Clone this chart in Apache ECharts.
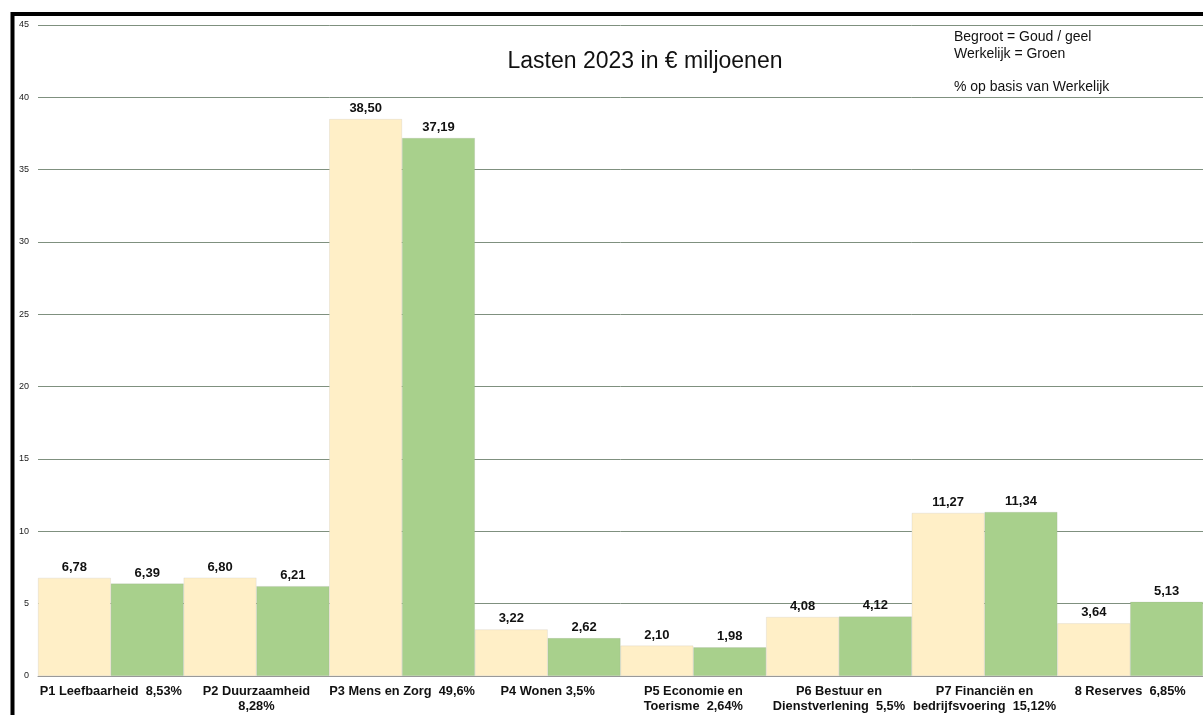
<!DOCTYPE html>
<html>
<head>
<meta charset="utf-8">
<script src="https://cdn.jsdelivr.net/npm/echarts@6/dist/echarts.min.js"></script>
<style>
html,body{margin:0;padding:0;background:#fff;}
#chart{width:1203px;height:715px;}
</style>
</head>
<body>
<div id="chart"></div>
<script>
var categories = [
  'P1 Leefbaarheid  8,53%',
  'P2 Duurzaamheid\n8,28%',
  'P3 Mens en Zorg  49,6%',
  'P4 Wonen 3,5%',
  'P5 Economie en\nToerisme  2,64%',
  'P6 Bestuur en\nDienstverlening  5,5%',
  'P7 Financiën en\nbedrijfsvoering  15,12%',
  '8 Reserves  6,85%'
];
var begroot = [6.78, 6.80, 38.50, 3.22, 2.10, 4.08, 11.27, 3.64];
var werkelijk = [6.39, 6.21, 37.19, 2.62, 1.98, 4.12, 11.34, 5.13];
var yTicks = [0, 45, 5];

var chart = echarts.init(document.getElementById('chart'));
var fam = '"Liberation Sans", Arial, sans-serif';
function fmt(p){ return p.value.toFixed(2).replace('.', ','); }
var labelStyle = {show:true, position:'top', distance:4, formatter:fmt,
  fontFamily:fam, fontSize:13, fontWeight:'bold', color:'#111'};

chart.setOption({
  animation:false,
  backgroundColor:'#fff',
  grid:{left:38, top:25, width:1168, height:651, containLabel:false},
  xAxis:{
    type:'category', data:categories,
    axisLine:{show:true, lineStyle:{color:'#999', width:1}},
    axisTick:{show:false},
    axisLabel:{interval:0, margin:8, fontFamily:fam, fontSize:12.8, fontWeight:'bold', color:'#111', lineHeight:15}
  },
  yAxis:{
    type:'value', min:yTicks[0], max:yTicks[1], interval:yTicks[2],
    axisLine:{show:false}, axisTick:{show:false},
    axisLabel:{margin:9, fontFamily:fam, fontSize:9, color:'#222'},
    splitLine:{show:true, lineStyle:{color:'#7f907f', width:1}}
  },
  series:[
    {name:'Begroot', type:'bar', data:begroot, barGap:'0%', barCategoryGap:'0%',
     itemStyle:{color:'#FFEFC7', borderColor:'rgba(170,170,170,0.35)', borderWidth:0.5},
     label:labelStyle},
    {name:'Werkelijk', type:'bar', data:werkelijk, barGap:'0%', barCategoryGap:'0%',
     itemStyle:{color:'#A8D08C', borderColor:'rgba(150,150,150,0.35)', borderWidth:0.5},
     label:labelStyle}
  ],
  graphic:[
    {type:'rect', shape:{x:12.5, y:14, width:1400, height:900}, style:{fill:'none', stroke:'#000', lineWidth:4}, z:100},
    {type:'text', x:645, y:62, style:{text:'Lasten 2023 in € miljoenen', fontFamily:fam, fontSize:23, fill:'#111', textAlign:'center', textVerticalAlign:'middle'}, z:100},
    {type:'text', x:954, y:29, style:{text:'Begroot = Goud / geel\nWerkelijk = Groen\n\n% op basis van Werkelijk', fontFamily:fam, fontSize:14, lineHeight:16.5, fill:'#111', textAlign:'left', textVerticalAlign:'top'}, z:100}
  ]
});
</script>
</body>
</html>
